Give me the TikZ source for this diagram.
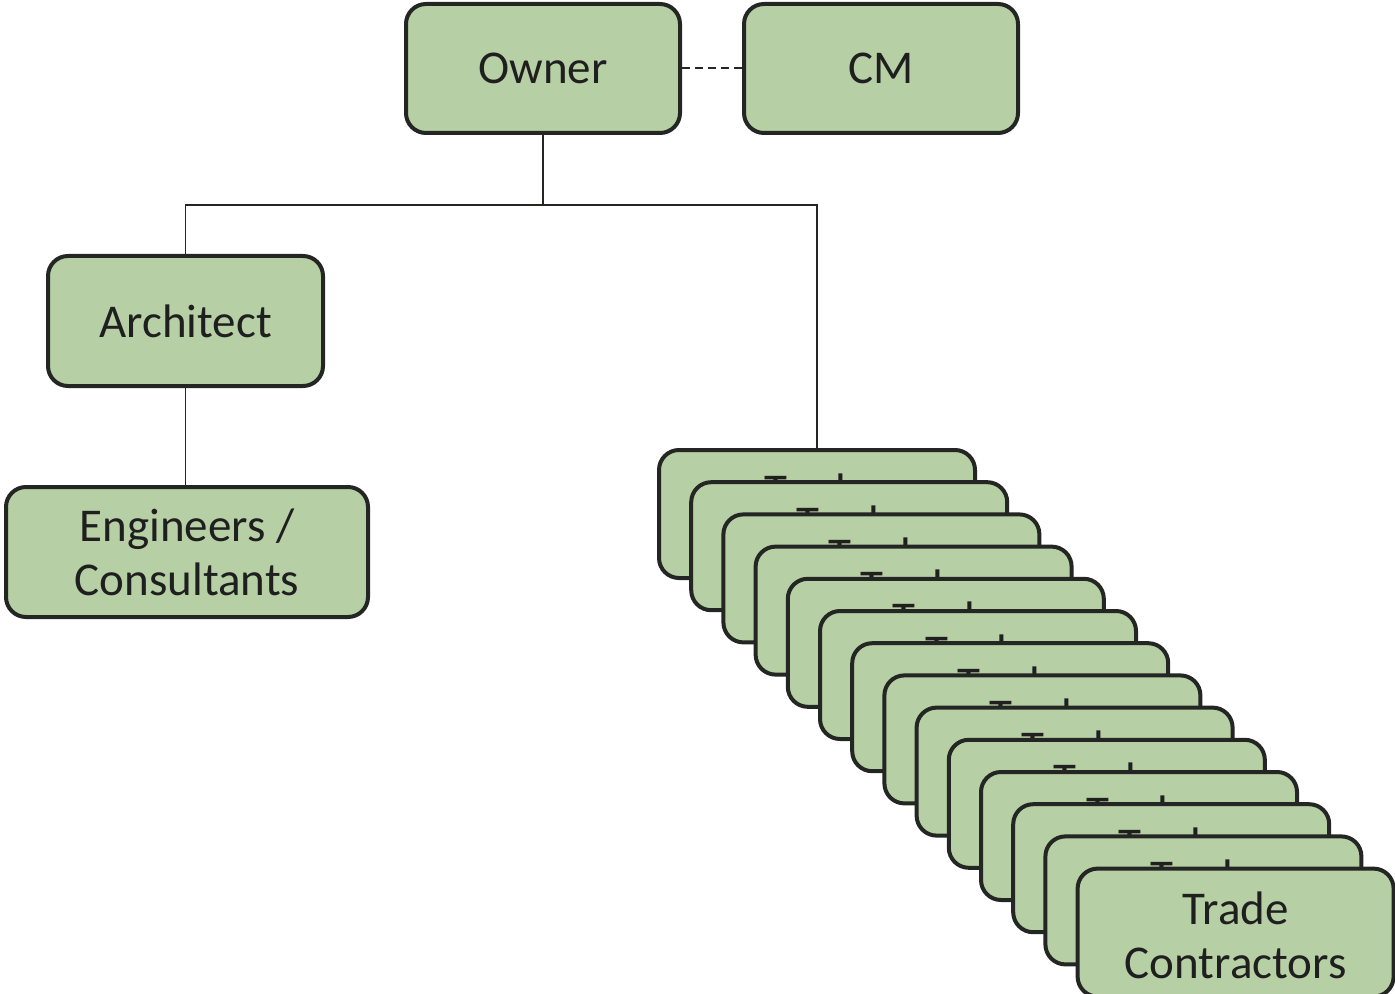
\documentclass[tikz,border=0pt]{standalone}
\usepackage{fontspec}
\setmainfont{Carlito}
\definecolor{boxgreen}{RGB}{182,207,164}
\definecolor{boxline}{RGB}{36,38,36}
\tikzset{
	box/.style={draw=boxline, line width=2pt, fill=boxgreen, rounded corners=10pt,
		align=center, inner sep=0pt, text=black!88, font=\fontsize{23.5}{27}\selectfont},
	boxtext/.style={align=center, inner sep=0pt, text=black!88, font=\fontsize{23.5}{27}\selectfont},
	link/.style={draw=boxline, line width=0.8pt}
}
\begin{document}
\begin{tikzpicture}[x=0.5pt,y=0.5pt,yscale=-1,xscale=1]
	\useasboundingbox (0,0) rectangle (1395,994);

	% Boxes top
	\node [box, minimum width=137pt, minimum height=64.5pt] (owner) at (543,68.5) {Owner};
	\node [box, minimum width=137pt, minimum height=64.5pt] (cm) at (881,68.5) {CM};
	\node [box, minimum width=137.5pt, minimum height=65pt] (arch) at (185.5,321) {Architect};
	\node [box, minimum width=181pt, minimum height=65pt] (eng) at (187,552) {Engineers /\\Consultants};

	% Trade contractors stack
	\foreach \i in {1,...,14}{
		\node [box, minimum width=158pt, minimum height=64pt] (tc\i) at ({817+32.2*(\i-1)},{514+32.2*(\i-1)}) {};
		\node [boxtext] (tt\i) at ([yshift=1.5pt]tc\i.center) {Trade\\Contractors};
	}

	% Connectors
	\draw [link, line width=1pt, dash pattern=on 4pt off 2.5pt] (owner.east) -- (cm.west);
	\draw [link] (owner.south) -- ++(0,70) coordinate (split) -| (arch.north);
	\draw [link] (split) -| (tc1.north);
	\draw [link] (arch.south) -- (arch.south |- eng.north);
\end{tikzpicture}
\end{document}
